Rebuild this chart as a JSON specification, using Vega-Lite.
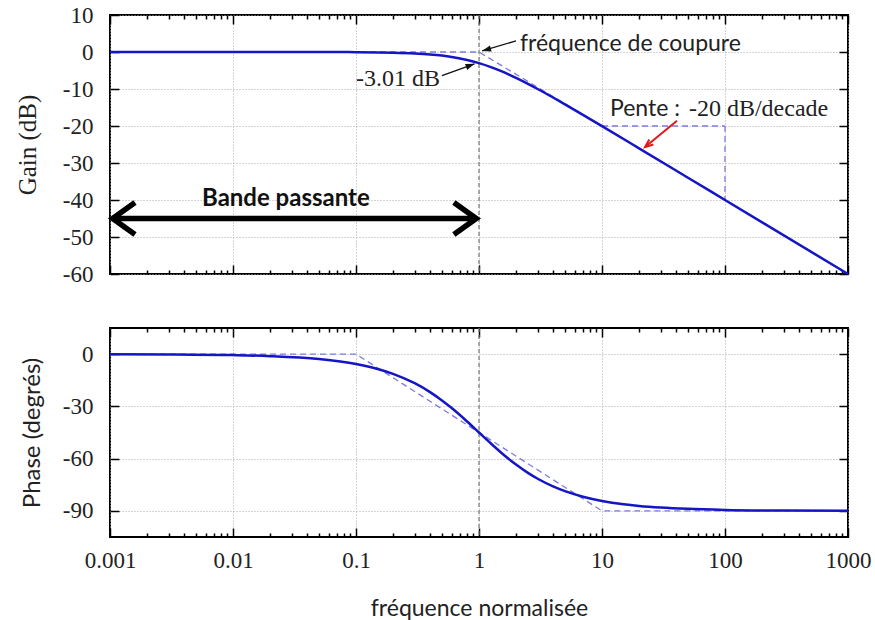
{
  "$schema": "https://vega.github.io/schema/vega-lite/v6.json",
  "background": "white",
  "padding": {"left": 14, "top": 3, "right": 5, "bottom": 3},
  "bounds": "flush",
  "spacing": 54,
  "config": {
    "view": {"stroke": "black", "strokeWidth": 2},
    "axis": {"domain": false, "tickColor": "black", "tickWidth": 1.5, "labelFont": "Liberation Serif", "labelFontSize": 23, "labelColor": "#222", "gridColor": "#a8a8a8", "gridDash": [1, 2], "gridWidth": 1, "titleColor": "#222", "titleFontWeight": "normal"}
  },
  "datasets": {
    "gain": [
      {"f": 0.001, "g": 0}, {"f": 0.01, "g": -0.0004}, {"f": 0.05, "g": -0.011}, {"f": 0.1, "g": -0.043},
      {"f": 0.2, "g": -0.17}, {"f": 0.3, "g": -0.374}, {"f": 0.4, "g": -0.645}, {"f": 0.5, "g": -0.969},
      {"f": 0.6, "g": -1.335}, {"f": 0.7, "g": -1.73}, {"f": 0.8, "g": -2.148}, {"f": 1, "g": -3.01},
      {"f": 1.25, "g": -4.087}, {"f": 1.5, "g": -5.12}, {"f": 2, "g": -6.99}, {"f": 2.5, "g": -8.603},
      {"f": 3, "g": -10}, {"f": 4, "g": -12.304}, {"f": 5, "g": -14.15}, {"f": 7, "g": -16.99},
      {"f": 10, "g": -20.04}, {"f": 20, "g": -26.03}, {"f": 50, "g": -33.98}, {"f": 100, "g": -40}, {"f": 1000, "g": -60}
    ],
    "gainAsym": [{"f": 0.001, "g": 0}, {"f": 1, "g": 0}, {"f": 1000, "g": -60}],
    "phase": [
      {"f": 0.001, "p": -0.06}, {"f": 0.003, "p": -0.17}, {"f": 0.01, "p": -0.57}, {"f": 0.02, "p": -1.15},
      {"f": 0.05, "p": -2.86}, {"f": 0.1, "p": -5.71}, {"f": 0.15, "p": -8.53}, {"f": 0.2, "p": -11.31},
      {"f": 0.3, "p": -16.7}, {"f": 0.4, "p": -21.8}, {"f": 0.5, "p": -26.57}, {"f": 0.6, "p": -30.96},
      {"f": 0.8, "p": -38.66}, {"f": 1, "p": -45}, {"f": 1.25, "p": -51.34}, {"f": 1.5, "p": -56.31},
      {"f": 2, "p": -63.43}, {"f": 2.5, "p": -68.2}, {"f": 3, "p": -71.57}, {"f": 4, "p": -75.96},
      {"f": 5, "p": -78.69}, {"f": 7, "p": -81.87}, {"f": 10, "p": -84.29}, {"f": 15, "p": -86.19},
      {"f": 20, "p": -87.14}, {"f": 30, "p": -88.09}, {"f": 50, "p": -88.85}, {"f": 100, "p": -89.43},
      {"f": 300, "p": -89.81}, {"f": 1000, "p": -89.94}
    ],
    "phaseAsym": [{"f": 0.001, "p": 0}, {"f": 0.1, "p": 0}, {"f": 10, "p": -90}, {"f": 1000, "p": -90}],
    "cutoff": [{"f": 1}],
    "slope": [{"f1": 10, "g1": -20, "f2": 100, "g2": -20}, {"f1": 100, "g1": -20, "f2": 100, "g2": -40}],
    "thinArrows": [{"f1": 2.0, "g1": 3.0, "f2": 1.06, "g2": 0.3}, {"f1": 0.5, "g1": -6.4, "f2": 0.92, "g2": -3.2}],
    "headCut": [{"f": 1.06, "g": 0.3}],
    "head3db": [{"f": 0.92, "g": -3.2}],
    "redArrow": [{"f1": 40.7, "g1": -18.6, "f2": 22.4, "g2": -25.7}],
    "redHead": [{"f": 22.4, "g": -25.7}],
    "band": [{"f1": 0.00105, "g1": -45, "f2": 0.95, "g2": -45}],
    "bandLeft": [{"f": 0.00105, "g": -45}],
    "bandRight": [{"f": 0.95, "g": -45}],
    "sansLabels": [
      {"t": "fréquence de coupure", "f": 2.154, "g": 2.2},
      {"t": "Pente :", "f": 11.6, "g": -15.4}
    ],
    "serifRight": [{"t": "-3.01 dB", "f": 0.482, "g": -7.3}],
    "serifLeft": [{"t": "-20 dB/decade", "f": 50.9, "g": -15.4}],
    "boldLabels": [{"t": "Bande passante", "f": 0.0056, "g": -39.7}]
  },
  "vconcat": [
    {
      "width": 738,
      "height": 259,
      "resolve": {"axis": {"x": "independent", "y": "independent"}},
      "layer": [
        {
          "data": {"name": "gainAsym"},
          "mark": {"type": "line", "color": "#7b7be0", "strokeWidth": 1.3, "strokeDash": [6, 4]},
          "encoding": {
            "x": {"field": "f", "type": "quantitative",
              "scale": {"type": "log", "domain": [0.001, 1000], "nice": false},
              "axis": {"orient": "bottom", "title": null, "labels": false,
                "values": [0.001,0.002,0.003,0.004,0.005,0.006,0.007,0.008,0.009,0.01,0.02,0.03,0.04,0.05,0.06,0.07,0.08,0.09,0.1,0.2,0.3,0.4,0.5,0.6,0.7,0.8,0.9,1,2,3,4,5,6,7,8,9,10,20,30,40,50,60,70,80,90,100,200,300,400,500,600,700,800,900,1000],
                "tickSize": -9,
                "tickDash": {"condition": {"test": "indexof([0.001,0.01,0.1,1,10,100,1000], datum.value) >= 0", "value": []}, "value": [4, 30]},
                "grid": true,
                "gridOpacity": {"condition": {"test": "indexof([0.001,0.01,0.1,1,10,100,1000], datum.value) >= 0", "value": 1}, "value": 0}
              }
            },
            "y": {"field": "g", "type": "quantitative",
              "scale": {"domain": [-60, 10], "nice": false, "zero": false},
              "axis": {"orient": "left", "values": [-60,-50,-40,-30,-20,-10,0,10], "labelExpr": "'' + datum.value", "tickSize": -9, "labelPadding": 26, "grid": true,
                "title": "Gain (dB)", "titleFont": "Liberation Serif", "titleFontSize": 25, "titlePadding": 22}
            }
          }
        },
        {
          "data": {"name": "cutoff"},
          "mark": {"type": "rule", "color": "#777", "strokeWidth": 1.2, "strokeDash": [4, 3]},
          "encoding": {"x": {"field": "f", "type": "quantitative", "axis": null}}
        },
        {
          "data": {"name": "slope"},
          "mark": {"type": "rule", "color": "#7b7be0", "strokeWidth": 1.3, "strokeDash": [6, 4]},
          "encoding": {
            "x": {"field": "f1", "type": "quantitative", "axis": null}, "x2": {"field": "f2"},
            "y": {"field": "g1", "type": "quantitative", "axis": null}, "y2": {"field": "g2"}
          }
        },
        {
          "data": {"name": "gain"},
          "mark": {"type": "line", "color": "#1515c8", "strokeWidth": 2.5, "interpolate": "monotone"},
          "encoding": {
            "x": {"field": "f", "type": "quantitative",
              "axis": {"orient": "top", "title": null, "labels": false, "grid": false,
                "values": [0.001,0.002,0.003,0.004,0.005,0.006,0.007,0.008,0.009,0.01,0.02,0.03,0.04,0.05,0.06,0.07,0.08,0.09,0.1,0.2,0.3,0.4,0.5,0.6,0.7,0.8,0.9,1,2,3,4,5,6,7,8,9,10,20,30,40,50,60,70,80,90,100,200,300,400,500,600,700,800,900,1000],
                "tickSize": -9,
                "tickDash": {"condition": {"test": "indexof([0.001,0.01,0.1,1,10,100,1000], datum.value) >= 0", "value": []}, "value": [4, 30]}
              }
            },
            "y": {"field": "g", "type": "quantitative",
              "axis": {"orient": "right", "title": null, "labels": false, "grid": false, "values": [-60,-50,-40,-30,-20,-10,0,10], "tickSize": -9}
            }
          }
        },
        {
          "data": {"name": "thinArrows"},
          "mark": {"type": "rule", "color": "#111", "strokeWidth": 1.3},
          "encoding": {
            "x": {"field": "f1", "type": "quantitative", "axis": null}, "x2": {"field": "f2"},
            "y": {"field": "g1", "type": "quantitative", "axis": null}, "y2": {"field": "g2"}
          }
        },
        {
          "data": {"name": "headCut"},
          "mark": {"type": "point", "shape": "M0,0L-0.7,2L0.7,2Z", "size": 81, "filled": true, "color": "#111", "opacity": 1, "angle": 254.5},
          "encoding": {"x": {"field": "f", "type": "quantitative", "axis": null}, "y": {"field": "g", "type": "quantitative", "axis": null}}
        },
        {
          "data": {"name": "head3db"},
          "mark": {"type": "point", "shape": "M0,0L-0.7,2L0.7,2Z", "size": 81, "filled": true, "color": "#111", "opacity": 1, "angle": 70},
          "encoding": {"x": {"field": "f", "type": "quantitative", "axis": null}, "y": {"field": "g", "type": "quantitative", "axis": null}}
        },
        {
          "data": {"name": "redArrow"},
          "mark": {"type": "rule", "color": "#e01818", "strokeWidth": 2},
          "encoding": {
            "x": {"field": "f1", "type": "quantitative", "axis": null}, "x2": {"field": "f2"},
            "y": {"field": "g1", "type": "quantitative", "axis": null}, "y2": {"field": "g2"}
          }
        },
        {
          "data": {"name": "redHead"},
          "mark": {"type": "point", "shape": "M-0.8,2L0,0L0.8,2", "size": 64, "filled": false, "color": "#e01818", "strokeWidth": 2, "opacity": 1, "angle": 230.9},
          "encoding": {"x": {"field": "f", "type": "quantitative", "axis": null}, "y": {"field": "g", "type": "quantitative", "axis": null}}
        },
        {
          "data": {"name": "band"},
          "mark": {"type": "rule", "color": "black", "strokeWidth": 5.5},
          "encoding": {
            "x": {"field": "f1", "type": "quantitative", "axis": null}, "x2": {"field": "f2"},
            "y": {"field": "g1", "type": "quantitative", "axis": null}, "y2": {"field": "g2"}
          }
        },
        {
          "data": {"name": "bandLeft"},
          "mark": {"type": "point", "shape": "M1.4,-1L0,0L1.4,1", "size": 1024, "filled": false, "color": "black", "strokeWidth": 5.5, "opacity": 1, "strokeJoin": "miter"},
          "encoding": {"x": {"field": "f", "type": "quantitative", "axis": null}, "y": {"field": "g", "type": "quantitative", "axis": null}}
        },
        {
          "data": {"name": "bandRight"},
          "mark": {"type": "point", "shape": "M-1.4,-1L0,0L-1.4,1", "size": 1024, "filled": false, "color": "black", "strokeWidth": 5.5, "opacity": 1, "strokeJoin": "miter"},
          "encoding": {"x": {"field": "f", "type": "quantitative", "axis": null}, "y": {"field": "g", "type": "quantitative", "axis": null}}
        },
        {
          "data": {"name": "sansLabels"},
          "mark": {"type": "text", "font": "Lato", "fontSize": 23, "align": "left", "baseline": "middle", "color": "#222"},
          "encoding": {"x": {"field": "f", "type": "quantitative", "axis": null}, "y": {"field": "g", "type": "quantitative", "axis": null}, "text": {"field": "t"}}
        },
        {
          "data": {"name": "serifRight"},
          "mark": {"type": "text", "font": "Liberation Serif", "fontSize": 24, "align": "right", "baseline": "middle", "color": "#222"},
          "encoding": {"x": {"field": "f", "type": "quantitative", "axis": null}, "y": {"field": "g", "type": "quantitative", "axis": null}, "text": {"field": "t"}}
        },
        {
          "data": {"name": "serifLeft"},
          "mark": {"type": "text", "font": "Liberation Serif", "fontSize": 24, "align": "left", "baseline": "middle", "color": "#222"},
          "encoding": {"x": {"field": "f", "type": "quantitative", "axis": null}, "y": {"field": "g", "type": "quantitative", "axis": null}, "text": {"field": "t"}}
        },
        {
          "data": {"name": "boldLabels"},
          "mark": {"type": "text", "font": "Lato", "fontSize": 24, "fontWeight": "bold", "align": "left", "baseline": "middle", "color": "#111"},
          "encoding": {"x": {"field": "f", "type": "quantitative", "axis": null}, "y": {"field": "g", "type": "quantitative", "axis": null}, "text": {"field": "t"}}
        }
      ]
    },
    {
      "width": 738,
      "height": 209,
      "resolve": {"axis": {"x": "independent", "y": "independent"}},
      "layer": [
        {
          "data": {"name": "phaseAsym"},
          "mark": {"type": "line", "color": "#7b7be0", "strokeWidth": 1.3, "strokeDash": [6, 4]},
          "encoding": {
            "x": {"field": "f", "type": "quantitative",
              "scale": {"type": "log", "domain": [0.001, 1000], "nice": false},
              "axis": {"orient": "bottom", "format": "~g",
                "labelExpr": "indexof([0.001,0.01,0.1,1,10,100,1000], datum.value) >= 0 ? datum.label : ''",
                "labelOverlap": false, "labelFlush": false, "labelPadding": 21,
                "values": [0.001,0.002,0.003,0.004,0.005,0.006,0.007,0.008,0.009,0.01,0.02,0.03,0.04,0.05,0.06,0.07,0.08,0.09,0.1,0.2,0.3,0.4,0.5,0.6,0.7,0.8,0.9,1,2,3,4,5,6,7,8,9,10,20,30,40,50,60,70,80,90,100,200,300,400,500,600,700,800,900,1000],
                "tickSize": -9,
                "tickDash": {"condition": {"test": "indexof([0.001,0.01,0.1,1,10,100,1000], datum.value) >= 0", "value": []}, "value": [4, 30]},
                "grid": true,
                "gridOpacity": {"condition": {"test": "indexof([0.001,0.01,0.1,1,10,100,1000], datum.value) >= 0", "value": 1}, "value": 0},
                "title": "fréquence normalisée", "titleFont": "Lato", "titleFontSize": 23, "titlePadding": 25
              }
            },
            "y": {"field": "p", "type": "quantitative",
              "scale": {"domain": [-105, 15], "nice": false, "zero": false},
              "axis": {"orient": "left", "values": [-90, -60, -30, 0], "labelExpr": "'' + datum.value", "tickSize": -9, "labelPadding": 26, "grid": true,
                "title": "Phase (degrés)", "titleFont": "Lato", "titleFontSize": 24, "titlePadding": 18}
            }
          }
        },
        {
          "data": {"name": "cutoff"},
          "mark": {"type": "rule", "color": "#777", "strokeWidth": 1.2, "strokeDash": [4, 3]},
          "encoding": {"x": {"field": "f", "type": "quantitative", "axis": null}}
        },
        {
          "data": {"name": "phase"},
          "mark": {"type": "line", "color": "#1515c8", "strokeWidth": 2.5, "interpolate": "monotone"},
          "encoding": {
            "x": {"field": "f", "type": "quantitative",
              "axis": {"orient": "top", "title": null, "labels": false, "grid": false,
                "values": [0.001,0.002,0.003,0.004,0.005,0.006,0.007,0.008,0.009,0.01,0.02,0.03,0.04,0.05,0.06,0.07,0.08,0.09,0.1,0.2,0.3,0.4,0.5,0.6,0.7,0.8,0.9,1,2,3,4,5,6,7,8,9,10,20,30,40,50,60,70,80,90,100,200,300,400,500,600,700,800,900,1000],
                "tickSize": -9,
                "tickDash": {"condition": {"test": "indexof([0.001,0.01,0.1,1,10,100,1000], datum.value) >= 0", "value": []}, "value": [4, 30]}
              }
            },
            "y": {"field": "p", "type": "quantitative",
              "axis": {"orient": "right", "title": null, "labels": false, "grid": false, "values": [-90, -60, -30, 0], "tickSize": -9}
            }
          }
        }
      ]
    }
  ]
}
